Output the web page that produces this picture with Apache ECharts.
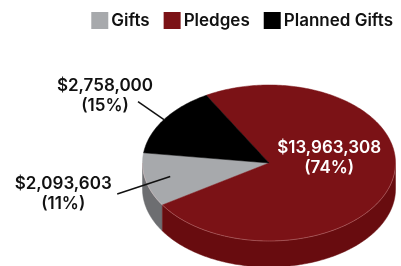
<!DOCTYPE html>
<html>
<head>
<meta charset="utf-8">
<script src="https://cdn.jsdelivr.net/npm/echarts@6/dist/echarts.min.js"></script>
<style>
  html, body { margin: 0; padding: 0; background: #fff; }
  #chart { width: 401px; height: 266px; }
</style>
</head>
<body>
<div id="chart"></div>
<script>
// 数据
const categories = ['Gifts', 'Pledges', 'Planned Gifts'];
const amounts = [2093603, 13963308, 2758000];
const amountLabels = ['$2,093,603', '$13,963,308', '$2,758,000'];
const percentLabels = ['(11%)', '(74%)', '(15%)'];

// 颜色
const topColors = ['#a7a9ac', '#7b1216', '#000000'];
const sideColors = ['#6d6e71', '#680c0f', '#111111'];

// 椭圆饼图几何参数
const CX = 269, CY = 163, RX = 126.5, RY = 78, DEPTH = 26;
const START = 172.5; // 起始角（逆时针）

// 标签位置：f 为沿中线的比例，line 为引导线偏移，text 为文字偏移
const labelLayout = [
  { f: 0.8, line: [-53, 17.5], text: [-54, 0], color: '#111' },
  { f: 0.49, line: null, text: [0, -14], color: '#fff' },
  { f: 1.0, line: [-26, -18], text: [-33, -6], color: '#111' }
];

const FONT = 'Inter, "Noto Sans", sans-serif';
const total = amounts.reduce((a, b) => a + b, 0);

function pt(deg, f, dy) {
  const r = deg * Math.PI / 180;
  return [CX + RX * f * Math.cos(r), CY - RY * f * Math.sin(r) + (dy || 0)];
}

function arcPoints(a0, a1, dy) {
  const pts = [];
  const n = Math.max(2, Math.ceil(Math.abs(a1 - a0)));
  for (let i = 0; i <= n; i++) {
    pts.push(pt(a0 + (a1 - a0) * i / n, 1, dy));
  }
  return pts;
}

function renderSlice(params, api) {
  const idx = params.seriesIndex;
  let a0 = START;
  for (let i = 0; i < idx; i++) a0 += amounts[i] / total * 360;
  const a1 = a0 + amounts[idx] / total * 360;
  const children = [];

  // 侧面：只画前半部分 (180° ~ 360°)
  [0, 360].forEach(function (shift) {
    const s = Math.max(a0, 180 + shift);
    const e = Math.min(a1, 360 + shift);
    if (e > s) {
      const top = arcPoints(s, e, 0);
      const bottom = arcPoints(e, s, DEPTH);
      children.push({
        type: 'polygon', z2: 1,
        shape: { points: top.concat(bottom) },
        style: { fill: sideColors[idx], stroke: sideColors[idx], lineWidth: 0.5 }
      });
      children.push({
        type: 'polyline', z2: 6,
        shape: { points: top },
        style: { fill: null, stroke: 'rgba(255,210,210,0.35)', lineWidth: 0.8 }
      });
    }
  });

  // 顶面
  children.push({
    type: 'polygon', z2: 5,
    shape: { points: [[CX, CY]].concat(arcPoints(a0, a1, 0)) },
    style: { fill: topColors[idx], stroke: topColors[idx], lineWidth: 0.5 }
  });

  // 标签
  const lay = labelLayout[idx];
  const mid = (a0 + a1) / 2;
  let p = pt(mid, lay.f, 0);
  if (lay.line) {
    const q = [p[0] + lay.line[0], p[1] + lay.line[1]];
    children.push({
      type: 'line', z2: 8,
      shape: { x1: p[0], y1: p[1], x2: q[0], y2: q[1] },
      style: { stroke: '#111', lineWidth: 1.5 }
    });
    p = q;
  }
  children.push({
    type: 'text', z2: 10,
    x: p[0] + lay.text[0], y: p[1] + lay.text[1],
    style: {
      text: amountLabels[idx] + '\n' + percentLabels[idx],
      fill: lay.color,
      font: '600 17px ' + FONT,
      lineHeight: 20,
      align: 'center',
      verticalAlign: 'middle'
    }
  });

  return { type: 'group', children: children };
}

const chart = echarts.init(document.getElementById('chart'), null, { renderer: 'canvas' });

const option = {
  animation: false,
  legend: {
    right: 3,
    top: 7,
    icon: 'rect',
    itemWidth: 17,
    itemHeight: 17,
    itemGap: 14,
    textStyle: { fontFamily: FONT, fontSize: 17, fontWeight: 600, color: '#111', padding: [0, 0, 0, -2] },
    data: categories
  },
  series: categories.map(function (name, i) {
    return {
      type: 'custom',
      name: name,
      coordinateSystem: 'none',
      itemStyle: { color: topColors[i] },
      renderItem: renderSlice,
      data: [[amounts[i]]]
    };
  })
};

chart.setOption(option);
</script>
</body>
</html>
